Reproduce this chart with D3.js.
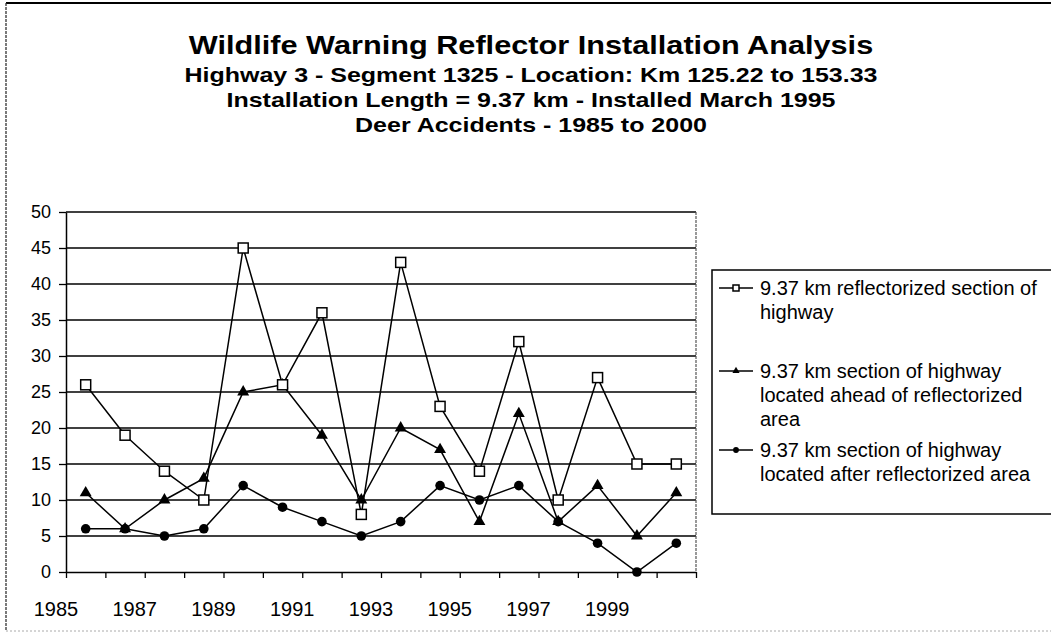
<!DOCTYPE html>
<html><head><meta charset="utf-8">
<script src="https://cdn.jsdelivr.net/npm/d3@7/dist/d3.min.js"></script>
<style>
body{margin:0;background:#fff}
svg text{font-family:"Liberation Sans", Arial, Helvetica, sans-serif; fill:#000}
</style>
</head><body>
<svg id="chart" width="1051" height="636"></svg>
<script>
// ---------------- data ----------------
const years = [1985,1986,1987,1988,1989,1990,1991,1992,1993,1994,1995,1996,1997,1998,1999,2000];
const reflectorized = [26,19,14,10,45,26,36,8,43,23,14,32,10,27,15,15];
const aheadSection  = [11,6,10,13,25,26,19,10,20,17,7,22,7,12,5,11];
const afterSection  = [6,6,5,6,12,9,7,5,7,12,10,12,7,4,0,4];
const yTickValues = [0,5,10,15,20,25,30,35,40,45,50];
const xTickLabels = ["1985","1987","1989","1991","1993","1995","1997","1999"];
const titleText = "Wildlife Warning Reflector Installation Analysis";
const subtitleLines = [
  "Highway 3 - Segment 1325 - Location: Km 125.22 to 153.33",
  "Installation Length = 9.37 km - Installed March 1995",
  "Deer Accidents - 1985 to 2000"
];
const legendLabels = [
  ["9.37 km reflectorized section of", "highway"],
  ["9.37 km section of highway", "located ahead of reflectorized", "area"],
  ["9.37 km section of highway", "located after reflectorized area"]
];

// ---------------- layout ----------------
const W = 1051, H = 636;
const plot = {left: 66, right: 696, top: 212, bottom: 572};
const svg = d3.select("#chart");

// frame
svg.append("line").attr("x1",6).attr("x2",W).attr("y1",3).attr("y2",3)
  .attr("stroke","#000").attr("stroke-width",2);
svg.append("line").attr("x1",6).attr("x2",6).attr("y1",3).attr("y2",631)
  .attr("stroke","#333").attr("stroke-width",1.3).attr("stroke-dasharray","3,1");
svg.append("line").attr("x1",6).attr("x2",W).attr("y1",631).attr("y2",631)
  .attr("stroke","#aaa").attr("stroke-width",1).attr("stroke-dasharray","2,2");

// titles
function stretched(sel, factor){
  sel.each(function(){
    const len = this.getComputedTextLength();
    d3.select(this).attr("textLength", len*factor).attr("lengthAdjust","spacingAndGlyphs");
  });
}
const cxTitle = 531;
svg.append("text").attr("x",cxTitle).attr("y",54).attr("text-anchor","middle")
  .attr("font-size",26).attr("font-weight","bold").text(titleText).call(stretched,1.18);
const subBase = [82, 107, 132];
svg.selectAll("text.sub").data(subtitleLines).join("text").attr("class","sub")
  .attr("x",cxTitle).attr("y",(d,i)=>subBase[i]).attr("text-anchor","middle")
  .attr("font-size",21).attr("font-weight","bold").text(d=>d).call(stretched,1.19);

// scales
const x = d3.scaleBand().domain(years).range([plot.left, plot.right]).padding(0);
const xc = d => x(d) + x.bandwidth()/2;
const xEdge = d3.scaleLinear().domain([0, years.length]).range([plot.left, plot.right]);
const y = d3.scaleLinear().domain([0,50]).range([plot.bottom, plot.top]);

// gridlines
svg.append("g").selectAll("line").data(yTickValues.filter(v=>v>0)).join("line")
  .attr("x1",plot.left).attr("x2",plot.right).attr("y1",d=>y(d)).attr("y2",d=>y(d))
  .attr("stroke","#000").attr("stroke-width",1.4);
// right border
svg.append("line").attr("x1",plot.right).attr("x2",plot.right).attr("y1",plot.top).attr("y2",plot.bottom)
  .attr("stroke","#555").attr("stroke-width",1.2).attr("stroke-dasharray","3,1");

// y axis
const yAxis = svg.append("g").attr("transform",`translate(${plot.left},0)`)
  .call(d3.axisLeft(y).tickValues(yTickValues).tickSize(7).tickSizeOuter(0).tickPadding(8));
yAxis.select(".domain").attr("stroke","#000").attr("stroke-width",1.5);
yAxis.selectAll(".tick line").attr("stroke","#000").attr("stroke-width",1.3);
yAxis.selectAll(".tick text").attr("font-size",18).attr("font-family",null).attr("fill","#000");

// x axis (ticks at category boundaries)
const xAxis = svg.append("g").attr("transform",`translate(0,${plot.bottom})`)
  .call(d3.axisBottom(xEdge).tickValues(d3.range(years.length+1)).tickSize(6).tickSizeOuter(0).tickFormat(""));
xAxis.select(".domain").attr("stroke","#000").attr("stroke-width",1.5);
xAxis.selectAll(".tick line").attr("stroke","#000").attr("stroke-width",1.3);
svg.append("g").selectAll("text").data(xTickLabels).join("text")
  .attr("x",d=>xEdge(years.indexOf(+d)) - 10).attr("y",616)
  .attr("text-anchor","middle").attr("font-size",20).text(d=>d);

// series
const line = d3.line().x((v,i)=>xc(years[i])).y(v=>y(v));
const series = [
  {key:"after", values: afterSection, marker:"circle"},
  {key:"ahead", values: aheadSection, marker:"triangle"},
  {key:"refl", values: reflectorized, marker:"square"}
];
function drawMarker(g, type, scale){
  if(type==="square"){
    const s = 10*scale;
    g.append("rect").attr("x",-s/2).attr("y",-s/2).attr("width",s).attr("height",s)
      .attr("fill","#fff").attr("stroke","#000").attr("stroke-width",1.5);
  } else if(type==="triangle"){
    g.append("path").attr("d",d3.symbol(d3.symbolTriangle, 62*scale*scale)()).attr("fill","#000");
  } else {
    g.append("circle").attr("r",4.8*scale).attr("fill","#000");
  }
}
series.forEach(s=>{
  svg.append("path").datum(s.values).attr("d",line)
    .attr("fill","none").attr("stroke","#000").attr("stroke-width",1.5);
});
series.forEach(s=>{
  const g = svg.append("g");
  s.values.forEach((v,i)=>{
    const m = g.append("g").attr("transform",`translate(${xc(years[i])},${y(v)})`);
    drawMarker(m, s.marker, 1);
  });
});

// legend
const lg = {left:712, top:270, bottom:514};
svg.append("rect").attr("x",lg.left).attr("y",lg.top).attr("width",W-lg.left+5).attr("height",lg.bottom-lg.top)
  .attr("fill","#fff").attr("stroke","#000").attr("stroke-width",1.5);
const entryBase = [295, 378, 457];
const lineH = 24;
const legendMarkers = ["square","triangle","circle"];
legendLabels.forEach((lines,k)=>{
  const yb = entryBase[k];
  const ym = yb - 7;
  svg.append("line").attr("x1",719).attr("x2",753).attr("y1",ym).attr("y2",ym)
    .attr("stroke","#000").attr("stroke-width",1.5);
  const m = svg.append("g").attr("transform",`translate(736,${ym})`);
  drawMarker(m, legendMarkers[k], 0.6);
  lines.forEach((t,j)=>{
    svg.append("text").attr("x",760).attr("y",yb + j*lineH).attr("font-size",20).text(t);
  });
});
</script>
</body></html>
